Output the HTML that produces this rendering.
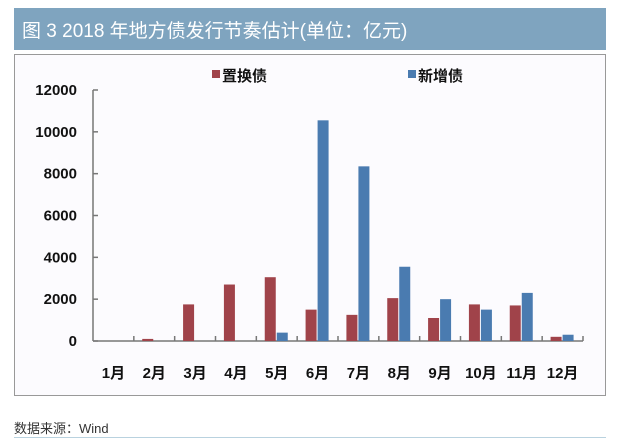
<!DOCTYPE html>
<html><head><meta charset="utf-8"><style>
body{margin:0;width:620px;height:440px;background:#fff;overflow:hidden;font-family:"Liberation Sans","Noto Sans CJK SC",sans-serif;}
</style></head><body>
<svg width="620" height="440" xmlns="http://www.w3.org/2000/svg">
<rect x="14" y="8" width="592" height="42" fill="#7fa4bf"/>
<text x="22" y="37" font-size="19" fill="#fff" font-family="Liberation Sans,Noto Sans CJK SC,sans-serif">图 3  2018 年地方债发行节奏估计(单位：亿元)</text>
<rect x="14.5" y="54.5" width="591" height="341" fill="#fcfbfe" stroke="#999" stroke-width="1"/>
<g id="legend">
<rect x="212" y="70" width="8" height="8" fill="#a0434a"/>
<text x="222" y="81" font-size="15" font-weight="bold" fill="#111">置换债</text>
<rect x="408" y="70" width="8" height="8" fill="#4a7bb0"/>
<text x="418" y="81" font-size="15" font-weight="bold" fill="#111">新增债</text>
</g>
<g id="axes"></g>
<g id="bars"></g>
<text x="14" y="433" font-size="13" fill="#333">数据来源：Wind</text>
<line x1="14" y1="437.5" x2="606" y2="437.5" stroke="#b9d2df" stroke-width="1"/>
</svg>
<script>
const months=["1月","2月","3月","4月","5月","6月","7月","8月","9月","10月","11月","12月"];
const replacement=[0,100,1750,2700,3050,1500,1250,2050,1100,1750,1700,200];
const newIssue=[0,0,0,0,400,10550,8350,3550,2000,1500,2300,300];
const yTicks=[0,2000,4000,6000,8000,10000,12000];
const NS="http://www.w3.org/2000/svg";
const x0=93,x1=583,y0=341,yTop=90,yMax=12000;
const bw=(x1-x0)/months.length;
const y=v=>y0-(v/yMax)*(y0-yTop);
const ax=document.getElementById('axes'),bg=document.getElementById('bars');
function mk(tag,attrs,parent){const e=document.createElementNS(NS,tag);for(const k in attrs)e.setAttribute(k,attrs[k]);parent.appendChild(e);return e;}
let l=mk('line',{x1:x0,y1:yTop,x2:x0,y2:y0,stroke:'#777','stroke-width':1.5},ax);


l=mk('line',{x1:x0,y1:y0,x2:x1,y2:y0,stroke:'#777','stroke-width':1.5},ax);


yTicks.forEach(v=>{
 const t=mk('line',{x1:x0,y1:y(v),x2:x0+5,y2:y(v),stroke:'#777','stroke-width':1.5},ax);
 
 
 const tx=mk('text',{x:77,y:y(v)+5,'text-anchor':'end','font-size':15,'font-weight':'bold',fill:'#111'},ax);
 tx.textContent=v;
 
 
});
months.forEach((m,i)=>{
 const xe=x0+(i+1)*bw;
 const t=mk('line',{x1:xe,y1:y0,x2:xe,y2:y0-5,stroke:'#777','stroke-width':1.5},ax);
 
 
 const c=x0+(i+0.5)*bw;
 const tx=mk('text',{x:c,y:378,'text-anchor':'middle','font-size':15,'font-weight':'bold',fill:'#111'},ax);
 tx.textContent=m;
 
 
 if(replacement[i]>0){
  const r=mk('rect',{x:c-12,y:y(replacement[i]),width:11,height:y0-y(replacement[i]),fill:'#a0434a'},bg);
  
  
 }
 if(newIssue[i]>0){
  const r=mk('rect',{x:c,y:y(newIssue[i]),width:11,height:y0-y(newIssue[i]),fill:'#4a7bb0'},bg);
  
  
 }
});
</script>
</body></html>
